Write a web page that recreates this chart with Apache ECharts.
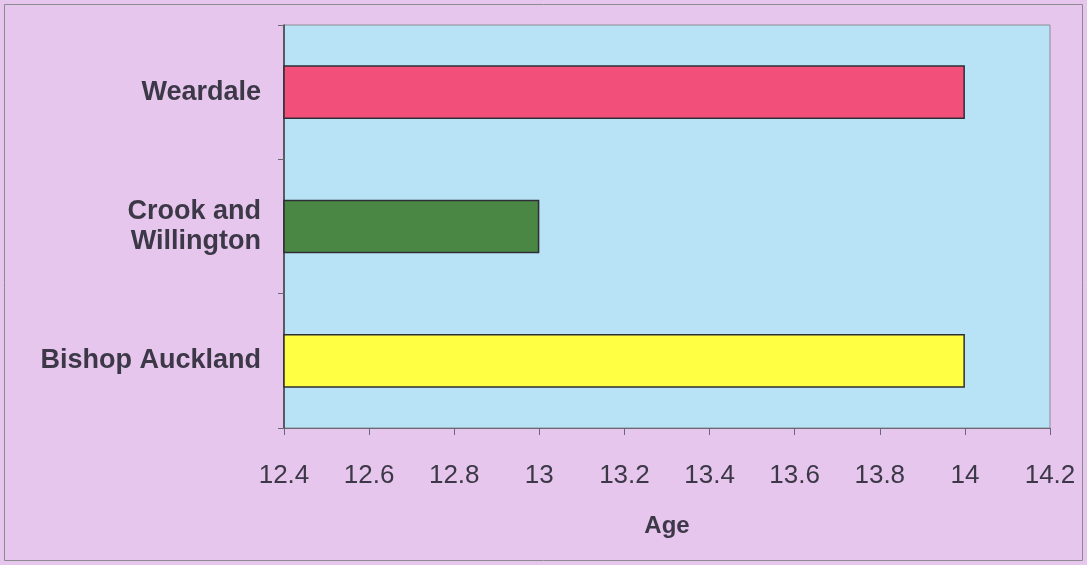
<!DOCTYPE html>
<html><head><meta charset="utf-8">
<script src="https://cdn.jsdelivr.net/npm/echarts@6/dist/echarts.min.js"></script>
<style>html,body{margin:0;padding:0;background:#e6c6ec;}#c{width:1087px;height:565px;}</style>
</head><body><div id="c"></div>
<script>
const categories = ['Bishop Auckland', 'Crook and\nWillington', 'Weardale'];
const ages = [14, 13, 14];
const barColors = ['#ffff44', '#4a8744', '#f2507a'];
const xMin = 12.4, xMax = 14.2, xStep = 0.2;
const FONT = 'Arial, "Liberation Sans", sans-serif';

const chart = echarts.init(document.getElementById('c'));
chart.setOption({
  backgroundColor: '#e6c6ec',
  animation: false,
  graphic: [{type:'rect', shape:{x:4.5,y:4.5,width:1078,height:556}, style:{fill:'none', stroke:'#8a8a90', lineWidth:1}, silent:true}],
  grid: {left: 284, right: 37, top: 25, bottom: 137, show: true, backgroundColor: '#b8e2f6', borderColor: '#8c8c96', borderWidth: 1},
  xAxis: {
    type: 'value', min: xMin, max: xMax, interval: xStep,
    name: 'Age', nameLocation: 'middle', nameGap: 86,
    nameTextStyle: {fontFamily: FONT, fontWeight: 'bold', fontSize: 24, color: '#3c3848'},
    axisLine: {show: true, lineStyle: {color: '#6a6a74', width: 1}},
    axisTick: {show: true, length: 7, lineStyle: {color: '#6a6a74'}},
    splitLine: {show: false},
    axisLabel: {fontFamily: FONT, fontSize: 26, color: '#3c3848', margin: 35,
      formatter: v => String(Math.round(v*10)/10)}
  },
  yAxis: {
    type: 'category', data: categories,
    axisLine: {show: true, lineStyle: {color: '#3c3c44', width: 1.5}},
    axisTick: {show: true, length: 6, lineStyle: {color: '#6a6a74'}},
    axisLabel: {fontFamily: FONT, fontWeight: 'bold', fontSize: 27, color: '#3c3848', margin: 23, align: 'right', lineHeight: 30}
  },
  series: [{
    type: 'bar', barCategoryGap: '60%',
    data: ages.map((v,i) => ({value: v, itemStyle: {color: barColors[i]}})),
    itemStyle: {borderColor: '#2e2e34', borderWidth: 1.5}
  }]
});
</script></body></html>
